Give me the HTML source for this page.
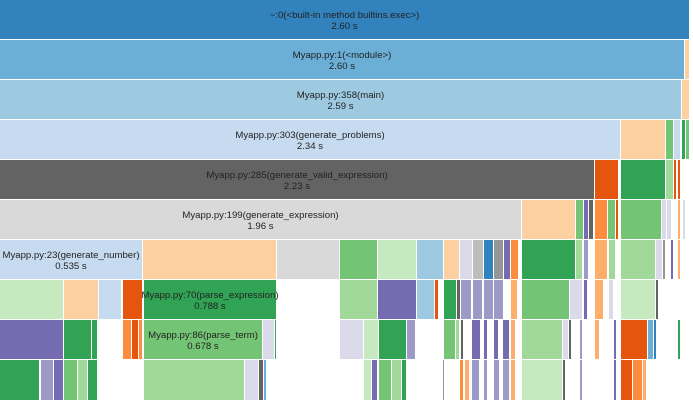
<!DOCTYPE html>
<html><head><meta charset="utf-8"><style>
body{margin:0;width:693px;height:400px;background:#fff;position:relative;overflow:hidden;font-family:"Liberation Sans",sans-serif}
div{position:absolute;box-sizing:border-box}
.t{color:#222;font-size:9.6px;line-height:11px;text-align:center;display:flex;flex-direction:column;justify-content:center;align-items:center;white-space:nowrap;overflow:visible;padding-top:2px;z-index:2}
</style></head><body>
<div class="t" style="left:0;top:0;width:689px;height:39px;background:#3182bd"><span>~:0(&lt;built-in method builtins.exec&gt;)</span><span>2.60 s</span></div>
<div class="t" style="left:0;top:40px;width:684px;height:39px;background:#6baed6"><span>Myapp.py:1(&lt;module&gt;)</span><span>2.60 s</span></div>
<div style="left:685px;top:40px;width:4px;height:39px;background:#fdd0a2"></div>
<div class="t" style="left:0;top:80px;width:681px;height:39px;background:#9ecae1"><span>Myapp.py:358(main)</span><span>2.59 s</span></div>
<div style="left:682px;top:80px;width:7px;height:39px;background:#fdd0a2"></div>
<div class="t" style="left:0;top:120px;width:620px;height:39px;background:#c6dbef"><span>Myapp.py:303(generate_problems)</span><span>2.34 s</span></div>
<div style="left:621px;top:120px;width:44px;height:39px;background:#fdd0a2"></div>
<div style="left:666px;top:120px;width:7px;height:39px;background:#74c476"></div>
<div style="left:674px;top:120px;width:6px;height:39px;background:#c6dbef"></div>
<div style="left:682px;top:120px;width:3px;height:39px;background:#31a354"></div>
<div style="left:686px;top:120px;width:3px;height:39px;background:#74c476"></div>
<div class="t" style="left:0;top:160px;width:594px;height:39px;background:#636363"><span>Myapp.py:285(generate_valid_expression)</span><span>2.23 s</span></div>
<div style="left:595px;top:160px;width:23px;height:39px;background:#e6550d"></div>
<div style="left:621px;top:160px;width:44px;height:39px;background:#31a354"></div>
<div style="left:666px;top:160px;width:7px;height:39px;background:#a1d99b"></div>
<div style="left:674px;top:160px;width:2px;height:39px;background:#e6550d"></div>
<div style="left:678px;top:160px;width:2px;height:39px;background:#e6550d"></div>
<div class="t" style="left:0;top:200px;width:521px;height:39px;background:#d9d9d9"><span>Myapp.py:199(generate_expression)</span><span>1.96 s</span></div>
<div style="left:522px;top:200px;width:53px;height:39px;background:#fdd0a2"></div>
<div style="left:576px;top:200px;width:7px;height:39px;background:#74c476"></div>
<div style="left:584px;top:200px;width:4px;height:39px;background:#756bb1"></div>
<div style="left:589px;top:200px;width:4px;height:39px;background:#636363"></div>
<div style="left:595px;top:200px;width:12px;height:39px;background:#fd8d3c"></div>
<div style="left:608px;top:200px;width:7px;height:39px;background:#74c476"></div>
<div style="left:616px;top:200px;width:2px;height:39px;background:#e6550d"></div>
<div style="left:621px;top:200px;width:40px;height:39px;background:#74c476"></div>
<div style="left:662px;top:200px;width:4px;height:39px;background:#dadaeb"></div>
<div style="left:667px;top:200px;width:4px;height:39px;background:#dadaeb"></div>
<div style="left:678px;top:200px;width:2px;height:39px;background:#fdae6b"></div>
<div style="left:683px;top:200px;width:2px;height:39px;background:#dadaeb"></div>
<!-- row6 -->
<div class="t" style="left:0;top:240px;width:142px;height:39px;background:#c6dbef"><span>Myapp.py:23(generate_number)</span><span>0.535 s</span></div>
<div style="left:143px;top:240px;width:133px;height:39px;background:#fdd0a2"></div>
<div style="left:277px;top:240px;width:62px;height:39px;background:#d9d9d9"></div>
<div style="left:340px;top:240px;width:37px;height:39px;background:#74c476"></div>
<div style="left:378px;top:240px;width:38px;height:39px;background:#c7e9c0"></div>
<div style="left:417px;top:240px;width:26px;height:39px;background:#9ecae1"></div>
<div style="left:444px;top:240px;width:15px;height:39px;background:#fdd0a2"></div>
<div style="left:460px;top:240px;width:12px;height:39px;background:#dadaeb"></div>
<div style="left:473px;top:240px;width:10px;height:39px;background:#bdbdbd"></div>
<div style="left:484px;top:240px;width:9px;height:39px;background:#3182bd"></div>
<div style="left:494px;top:240px;width:9px;height:39px;background:#969696"></div>
<div style="left:504px;top:240px;width:6px;height:39px;background:#756bb1"></div>
<div style="left:511px;top:240px;width:7px;height:39px;background:#fd8d3c"></div>
<div style="left:522px;top:240px;width:53px;height:39px;background:#31a354"></div>
<div style="left:576px;top:240px;width:6px;height:39px;background:#a1d99b"></div>
<div style="left:584px;top:240px;width:4px;height:39px;background:#9e9ac8"></div>
<div style="left:595px;top:240px;width:12px;height:39px;background:#fdae6b"></div>
<div style="left:609px;top:240px;width:6px;height:39px;background:#a1d99b"></div>
<div style="left:621px;top:240px;width:34px;height:39px;background:#a1d99b"></div>
<div style="left:656px;top:240px;width:6px;height:39px;background:#dadaeb"></div>
<div style="left:663px;top:240px;width:2px;height:39px;background:#969696"></div>
<div style="left:671px;top:240px;width:2px;height:39px;background:#756bb1"></div>
<div style="left:678px;top:240px;width:2px;height:39px;background:#fdae6b"></div>
<!-- row7 -->
<div style="left:0;top:280px;width:63px;height:39px;background:#c7e9c0"></div>
<div style="left:64px;top:280px;width:34px;height:39px;background:#fdd0a2"></div>
<div style="left:99px;top:280px;width:22px;height:39px;background:#c6dbef"></div>
<div style="left:123px;top:280px;width:19px;height:39px;background:#e6550d"></div>
<div class="t" style="left:144px;top:280px;width:132px;height:39px;background:#31a354"><span>Myapp.py:70(parse_expression)</span><span>0.788 s</span></div>
<div style="left:340px;top:280px;width:37px;height:39px;background:#a1d99b"></div>
<div style="left:378px;top:280px;width:38px;height:39px;background:#756bb1"></div>
<div style="left:417px;top:280px;width:17px;height:39px;background:#9ecae1"></div>
<div style="left:435px;top:280px;width:3px;height:39px;background:#e6550d"></div>
<div style="left:444px;top:280px;width:12px;height:39px;background:#31a354"></div>
<div style="left:457px;top:280px;width:3px;height:39px;background:#636363"></div>
<div style="left:461px;top:280px;width:10px;height:39px;background:#9e9ac8"></div>
<div style="left:473px;top:280px;width:9px;height:39px;background:#9e9ac8"></div>
<div style="left:484px;top:280px;width:9px;height:39px;background:#9e9ac8"></div>
<div style="left:494px;top:280px;width:9px;height:39px;background:#9e9ac8"></div>
<div style="left:511px;top:280px;width:6px;height:39px;background:#fdae6b"></div>
<div style="left:522px;top:280px;width:47px;height:39px;background:#74c476"></div>
<div style="left:570px;top:280px;width:12px;height:39px;background:#dadaeb"></div>
<div style="left:584px;top:280px;width:3px;height:39px;background:#756bb1"></div>
<div style="left:595px;top:280px;width:8px;height:39px;background:#fdae6b"></div>
<div style="left:609px;top:280px;width:4px;height:39px;background:#dadaeb"></div>
<div style="left:621px;top:280px;width:34px;height:39px;background:#c7e9c0"></div>
<div style="left:656px;top:280px;width:2px;height:39px;background:#636363"></div>
<!-- row8 -->
<div style="left:0;top:320px;width:63px;height:39px;background:#756bb1"></div>
<div style="left:64px;top:320px;width:27px;height:39px;background:#31a354"></div>
<div style="left:92px;top:320px;width:5px;height:39px;background:#31a354"></div>
<div style="left:123px;top:320px;width:8px;height:39px;background:#fd8d3c"></div>
<div style="left:132px;top:320px;width:6px;height:39px;background:#e6550d"></div>
<div style="left:139px;top:320px;width:3px;height:39px;background:#fd8d3c"></div>
<div class="t" style="left:144px;top:320px;width:118px;height:39px;background:#74c476"><span>Myapp.py:86(parse_term)</span><span>0.678 s</span></div>
<div style="left:263px;top:320px;width:11px;height:39px;background:#dadaeb"></div>
<div style="left:275px;top:320px;width:1px;height:39px;background:#31a354"></div>
<div style="left:340px;top:320px;width:23px;height:39px;background:#dadaeb"></div>
<div style="left:364px;top:320px;width:14px;height:39px;background:#c7e9c0"></div>
<div style="left:379px;top:320px;width:27px;height:39px;background:#31a354"></div>
<div style="left:407px;top:320px;width:8px;height:39px;background:#9e9ac8"></div>
<div style="left:444px;top:320px;width:11px;height:39px;background:#74c476"></div>
<div style="left:456px;top:320px;width:3px;height:39px;background:#a1d99b"></div>
<div style="left:461px;top:320px;width:2px;height:39px;background:#636363"></div>
<div style="left:472px;top:320px;width:8px;height:39px;background:#756bb1"></div>
<div style="left:484px;top:320px;width:3px;height:39px;background:#756bb1"></div>
<div style="left:494px;top:320px;width:4px;height:39px;background:#756bb1"></div>
<div style="left:503px;top:320px;width:6px;height:39px;background:#756bb1"></div>
<div style="left:511px;top:320px;width:4px;height:39px;background:#fdae6b"></div>
<div style="left:522px;top:320px;width:40px;height:39px;background:#a1d99b"></div>
<div style="left:563px;top:320px;width:5px;height:39px;background:#dadaeb"></div>
<div style="left:569px;top:320px;width:2px;height:39px;background:#636363"></div>
<div style="left:580px;top:320px;width:2px;height:39px;background:#9e9ac8"></div>
<div style="left:595px;top:320px;width:4px;height:39px;background:#fdae6b"></div>
<div style="left:614px;top:320px;width:2px;height:39px;background:#756bb1"></div>
<div style="left:621px;top:320px;width:26px;height:39px;background:#e6550d"></div>
<div style="left:648px;top:320px;width:5px;height:39px;background:#6baed6"></div>
<div style="left:654px;top:320px;width:2px;height:39px;background:#3182bd"></div>
<div style="left:678px;top:320px;width:2px;height:39px;background:#31a354"></div>
<!-- row9 -->
<div style="left:0;top:360px;width:39px;height:40px;background:#31a354"></div>
<div style="left:41px;top:360px;width:12px;height:40px;background:#9e9ac8"></div>
<div style="left:54px;top:360px;width:9px;height:40px;background:#756bb1"></div>
<div style="left:64px;top:360px;width:13px;height:40px;background:#74c476"></div>
<div style="left:78px;top:360px;width:9px;height:40px;background:#a1d99b"></div>
<div style="left:88px;top:360px;width:9px;height:40px;background:#31a354"></div>
<div style="left:144px;top:360px;width:100px;height:40px;background:#a1d99b"></div>
<div style="left:245px;top:360px;width:13px;height:40px;background:#dadaeb"></div>
<div style="left:259px;top:360px;width:4px;height:40px;background:#636363"></div>
<div style="left:264px;top:360px;width:2px;height:40px;background:#6baed6"></div>
<div style="left:364px;top:360px;width:7px;height:40px;background:#c7e9c0"></div>
<div style="left:372px;top:360px;width:5px;height:40px;background:#756bb1"></div>
<div style="left:379px;top:360px;width:12px;height:40px;background:#74c476"></div>
<div style="left:392px;top:360px;width:9px;height:40px;background:#a1d99b"></div>
<div style="left:402px;top:360px;width:4px;height:40px;background:#31a354"></div>
<div style="left:443px;top:360px;width:1px;height:40px;background:#969696"></div>
<div style="left:460px;top:360px;width:3px;height:40px;background:#fd8d3c"></div>
<div style="left:465px;top:360px;width:4px;height:40px;background:#fdae6b"></div>
<div style="left:472px;top:360px;width:7px;height:40px;background:#9e9ac8"></div>
<div style="left:484px;top:360px;width:3px;height:40px;background:#9e9ac8"></div>
<div style="left:494px;top:360px;width:5px;height:40px;background:#9e9ac8"></div>
<div style="left:503px;top:360px;width:6px;height:40px;background:#9e9ac8"></div>
<div style="left:511px;top:360px;width:4px;height:40px;background:#fdae6b"></div>
<div style="left:522px;top:360px;width:40px;height:40px;background:#c7e9c0"></div>
<div style="left:563px;top:360px;width:2px;height:40px;background:#636363"></div>
<div style="left:580px;top:360px;width:2px;height:40px;background:#9e9ac8"></div>
<div style="left:614px;top:360px;width:2px;height:40px;background:#756bb1"></div>
<div style="left:621px;top:360px;width:11px;height:40px;background:#e6550d"></div>
<div style="left:633px;top:360px;width:9px;height:40px;background:#fd8d3c"></div>
<div style="left:643px;top:360px;width:3px;height:40px;background:#fdae6b"></div>
</body></html>
